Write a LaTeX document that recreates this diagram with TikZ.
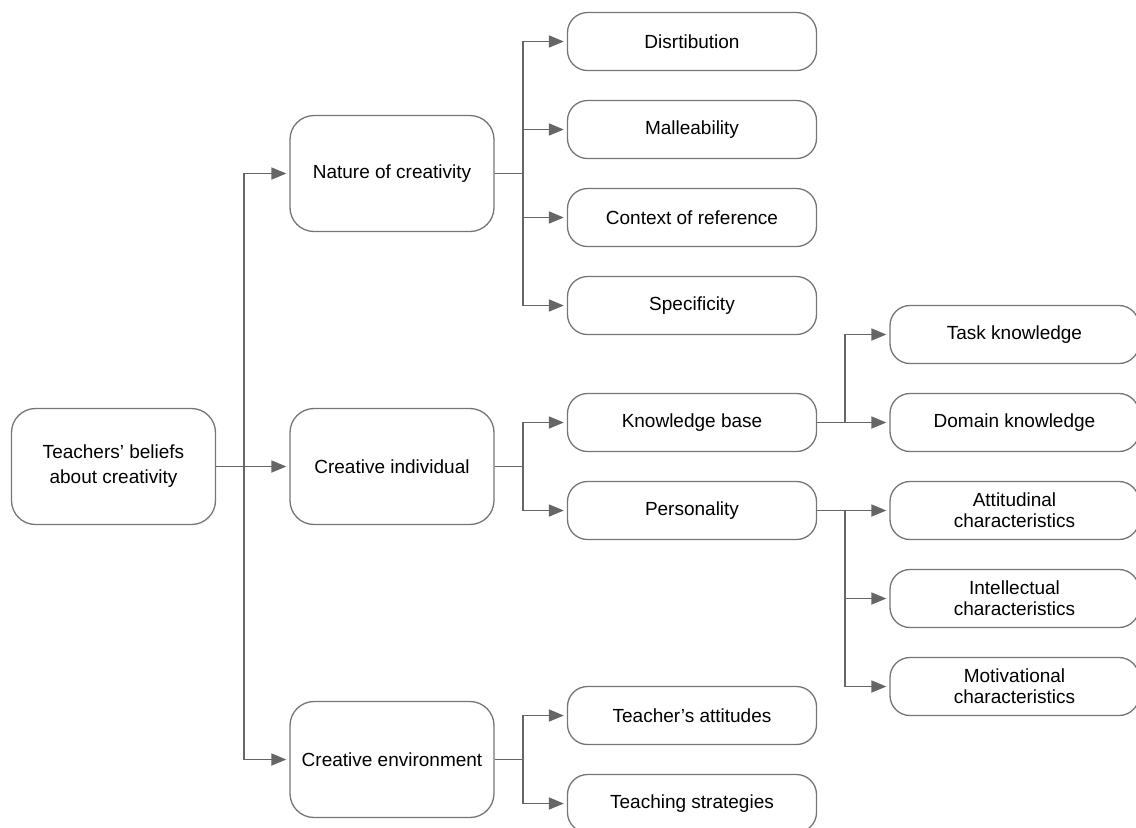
\documentclass[tikz,border=0pt]{standalone}
\usepackage{fontspec}
\setmainfont{Liberation Sans}
\usetikzlibrary{positioning,arrows.meta}

\definecolor{boxgray}{HTML}{757575}
\definecolor{linegray}{HTML}{666666}

\tikzset{
  bigbox/.style={draw=boxgray, line width=0.65pt, rounded corners=12pt,
    minimum width=102pt, minimum height=58pt, align=center,
    font=\fontsize{9.5}{12.5}\selectfont},
  smallbox/.style={draw=boxgray, line width=0.65pt, rounded corners=10pt,
    minimum width=124.5pt, minimum height=29pt, align=center,
    font=\fontsize{9.5}{10.5}\selectfont},
  link/.style={draw=linegray, line width=0.85pt, shorten >=1.5pt,
    -{Triangle[length=7.5pt,width=6pt]}}
}

\begin{document}
\begin{tikzpicture}[x=0.5pt,y=-0.5pt]
  \clip (0,0) rectangle (1136,827);

  \node[bigbox] (root) at (113.5,466.5) {Teachers' beliefs\\about creativity};
  \node[bigbox] (nat) at (392,173.5) {Nature of creativity};
  \node[bigbox] (ind) at (392,466.5) {Creative individual};
  \node[bigbox] (env) at (392,759.5) {Creative environment};

  \node[smallbox] (dis) at (692,41.5) {Disrtibution};
  \node[smallbox] (mal) at (692,129.5) {Malleability};
  \node[smallbox] (con) at (692,217.5) {Context of reference};
  \node[smallbox] (spe) at (692,305.5) {Specificity};
  \node[smallbox] (kno) at (692,422.5) {Knowledge base};
  \node[smallbox] (per) at (692,510.5) {Personality};
  \node[smallbox] (tat) at (692,715.5) {Teacher’s attitudes};
  \node[smallbox] (tst) at (692,803.5) {Teaching strategies};

  \node[smallbox] (tas) at (1014.5,334.5) {Task knowledge};
  \node[smallbox] (dom) at (1014.5,422.5) {Domain knowledge};
  \node[smallbox] (att) at (1014.5,510.5) {Attitudinal\\characteristics};
  \node[smallbox] (int) at (1014.5,598.5) {Intellectual\\characteristics};
  \node[smallbox] (mot) at (1014.5,686.5) {Motivational\\characteristics};

  \draw[link] (root.east) -- ++(28,0) |- (nat.west);
  \draw[link] (root.east) -- (ind.west);
  \draw[link] (root.east) -- ++(28,0) |- (env.west);

  \draw[link] (nat.east) -- ++(28,0) |- (dis.west);
  \draw[link] (nat.east) -- ++(28,0) |- (mal.west);
  \draw[link] (nat.east) -- ++(28,0) |- (con.west);
  \draw[link] (nat.east) -- ++(28,0) |- (spe.west);

  \draw[link] (ind.east) -- ++(28,0) |- (kno.west);
  \draw[link] (ind.east) -- ++(28,0) |- (per.west);

  \draw[link] (env.east) -- ++(28,0) |- (tat.west);
  \draw[link] (env.east) -- ++(28,0) |- (tst.west);

  \draw[link] (kno.east) -- ++(28,0) |- (tas.west);
  \draw[link] (kno.east) -- (dom.west);

  \draw[link] (per.east) -- ++(28,0) |- (att.west);
  \draw[link] (per.east) -- ++(28,0) |- (int.west);
  \draw[link] (per.east) -- ++(28,0) |- (mot.west);
\end{tikzpicture}
\end{document}
